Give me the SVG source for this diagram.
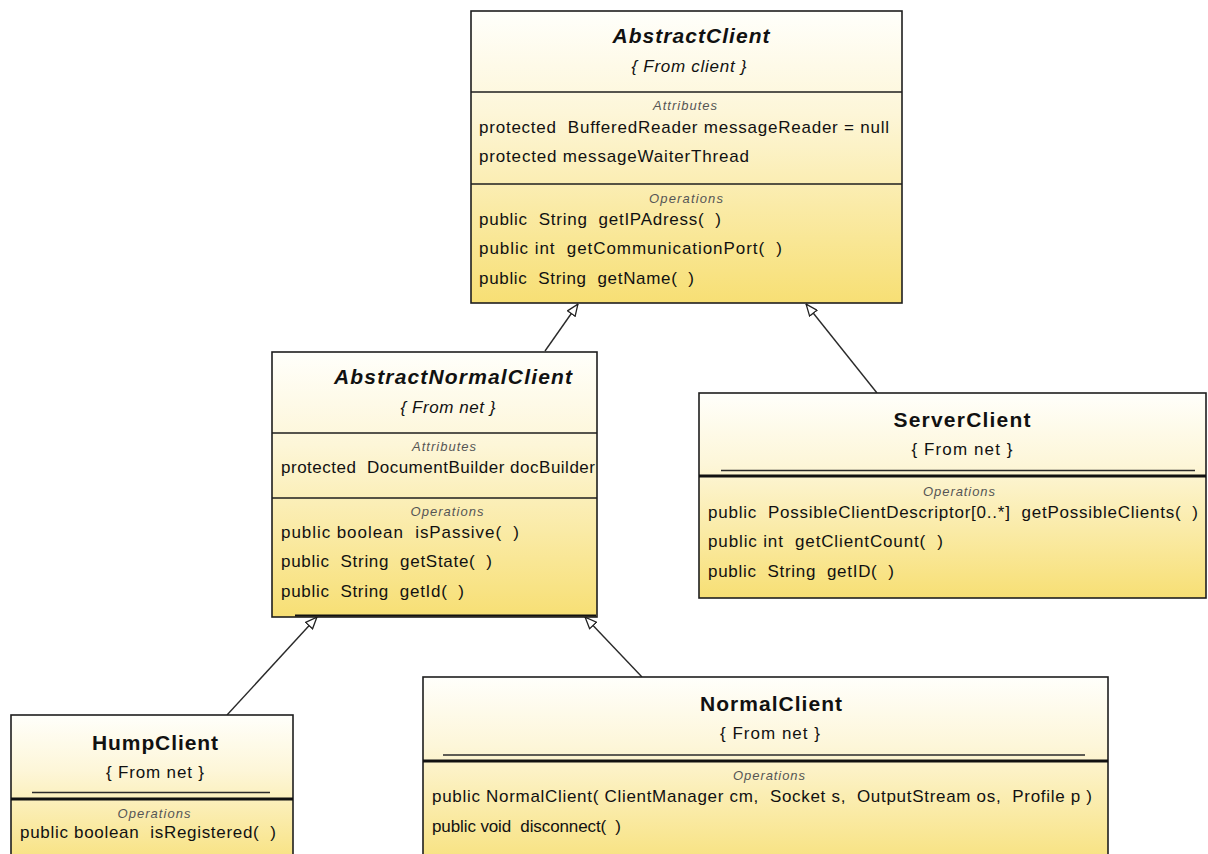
<svg xmlns="http://www.w3.org/2000/svg" width="1208" height="854" viewBox="0 0 1208 854" xml:space="preserve">
  <defs>
    <linearGradient id="fillY" x1="0" y1="0" x2="0" y2="1">
      <stop offset="0" stop-color="#fffffb"/>
      <stop offset="0.35" stop-color="#fdf6d8"/>
      <stop offset="1" stop-color="#f7df74"/>
    </linearGradient>
    <marker id="gen" viewBox="0 0 13 11" refX="12.5" refY="5.5" markerWidth="13" markerHeight="11" markerUnits="userSpaceOnUse" orient="auto">
      <path d="M0.8,0.8 L12.3,5.5 L0.8,10.2 Z" fill="#ffffff" stroke="#222" stroke-width="1.3"/>
    </marker>
    <style>
      .box { fill: url(#fillY); stroke: #1e1e1e; stroke-width: 1.6; }
      .sep { stroke: #1e1e1e; stroke-width: 1.5; }
      .sepb { stroke: #111; stroke-width: 3; }
      .ul { stroke: #2a2a2a; stroke-width: 1.6; }
      text { font-family: "Liberation Sans", Arial, sans-serif; fill: #111; white-space: pre; }
      .t { font-size: 21px; font-weight: bold; text-anchor: middle; }
      .ti { font-style: italic; }
      .sub { font-size: 17px; text-anchor: middle; }
      .lbl { font-size: 13px; font-style: italic; fill: #555; text-anchor: middle; }
      .m { font-size: 17px; }
      .con { stroke: #2a2a2a; stroke-width: 1.4; fill: none; marker-end: url(#gen); }
    </style>
  </defs>

  <rect width="1208" height="854" fill="#ffffff"/>

  <!-- generalization links -->
  <g id="connectors">
    <line class="con" x1="545" y1="351" x2="578" y2="304"/>
    <line class="con" x1="877" y1="393" x2="806" y2="304"/>
    <line class="con" x1="227" y1="715" x2="317" y2="617"/>
    <line class="con" x1="642" y1="677" x2="585" y2="617"/>
  </g>

  <!-- AbstractClient -->
  <g id="AbstractClient">
    <rect class="box" x="471" y="11" width="431" height="292"/>
    <text class="t ti" x="691" y="43" textLength="157">AbstractClient</text>
    <text class="sub ti" x="689" y="72" textLength="115">{ From client }</text>
    <line class="sep" x1="471" y1="92" x2="902" y2="92"/>
    <text class="lbl" x="685" y="110" textLength="64">Attributes</text>
    <text class="m" x="479" y="133" textLength="410">protected  BufferedReader messageReader = null</text>
    <text class="m" x="479" y="162" textLength="270">protected messageWaiterThread</text>
    <line class="sep" x1="471" y1="184" x2="902" y2="184"/>
    <text class="lbl" x="686" y="203" textLength="74">Operations</text>
    <text class="m" x="479" y="225" textLength="242">public  String  getIPAdress(  )</text>
    <text class="m" x="479" y="254" textLength="303">public int  getCommunicationPort(  )</text>
    <text class="m" x="479" y="284" textLength="215">public  String  getName(  )</text>
  </g>

  <!-- AbstractNormalClient -->
  <g id="AbstractNormalClient">
    <rect class="box" x="272" y="352" width="325" height="265"/>
    <line x1="295" y1="615.5" x2="596" y2="615.5" stroke="#111" stroke-width="2"/>
    <text class="t ti" x="453" y="384" textLength="238">AbstractNormalClient</text>
    <text class="sub ti" x="448" y="413" textLength="95">{ From net }</text>
    <line class="sep" x1="272" y1="433" x2="597" y2="433"/>
    <text class="lbl" x="444" y="451" textLength="64">Attributes</text>
    <text class="m" x="281" y="473" textLength="314">protected  DocumentBuilder docBuilder</text>
    <line class="sep" x1="272" y1="498" x2="597" y2="498"/>
    <text class="lbl" x="447" y="516" textLength="73">Operations</text>
    <text class="m" x="281" y="538" textLength="238">public boolean  isPassive(  )</text>
    <text class="m" x="281" y="567" textLength="211">public  String  getState(  )</text>
    <text class="m" x="281" y="597" textLength="183">public  String  getId(  )</text>
  </g>

  <!-- ServerClient -->
  <g id="ServerClient">
    <rect class="box" x="699" y="393" width="507" height="205"/>
    <text class="t" x="962" y="427" textLength="137">ServerClient</text>
    <text class="sub" x="962" y="455" textLength="101">{ From net }</text>
    <line class="ul" x1="721" y1="470.5" x2="1195" y2="470.5"/>
    <line class="sepb" x1="699" y1="476" x2="1206" y2="476"/>
    <text class="lbl" x="959" y="496" textLength="72">Operations</text>
    <text class="m" x="708" y="518" textLength="490">public  PossibleClientDescriptor[0..*]  getPossibleClients(  )</text>
    <text class="m" x="708" y="547" textLength="235">public int  getClientCount(  )</text>
    <text class="m" x="708" y="577" textLength="186">public  String  getID(  )</text>
  </g>

  <!-- HumpClient -->
  <g id="HumpClient">
    <rect class="box" x="11" y="715" width="282" height="160"/>
    <text class="t" x="155" y="750" textLength="126">HumpClient</text>
    <text class="sub" x="155" y="778" textLength="98">{ From net }</text>
    <line class="ul" x1="32" y1="792.5" x2="270" y2="792.5"/>
    <line class="sepb" x1="11" y1="799" x2="293" y2="799"/>
    <text class="lbl" x="154" y="818" textLength="73">Operations</text>
    <text class="m" x="20" y="838" textLength="256">public boolean  isRegistered(  )</text>
  </g>

  <!-- NormalClient -->
  <g id="NormalClient">
    <rect class="box" x="423" y="677" width="685" height="200"/>
    <text class="t" x="771" y="711" textLength="142">NormalClient</text>
    <text class="sub" x="770" y="739" textLength="100">{ From net }</text>
    <line class="ul" x1="443" y1="755" x2="1085" y2="755"/>
    <line class="sepb" x1="423" y1="761" x2="1108" y2="761"/>
    <text class="lbl" x="769" y="780" textLength="72">Operations</text>
    <text class="m" x="432" y="802" textLength="660">public NormalClient( ClientManager cm,  Socket s,  OutputStream os,  Profile p )</text>
    <text class="m" x="432" y="832" textLength="189">public void  disconnect(  )</text>
  </g>
</svg>
